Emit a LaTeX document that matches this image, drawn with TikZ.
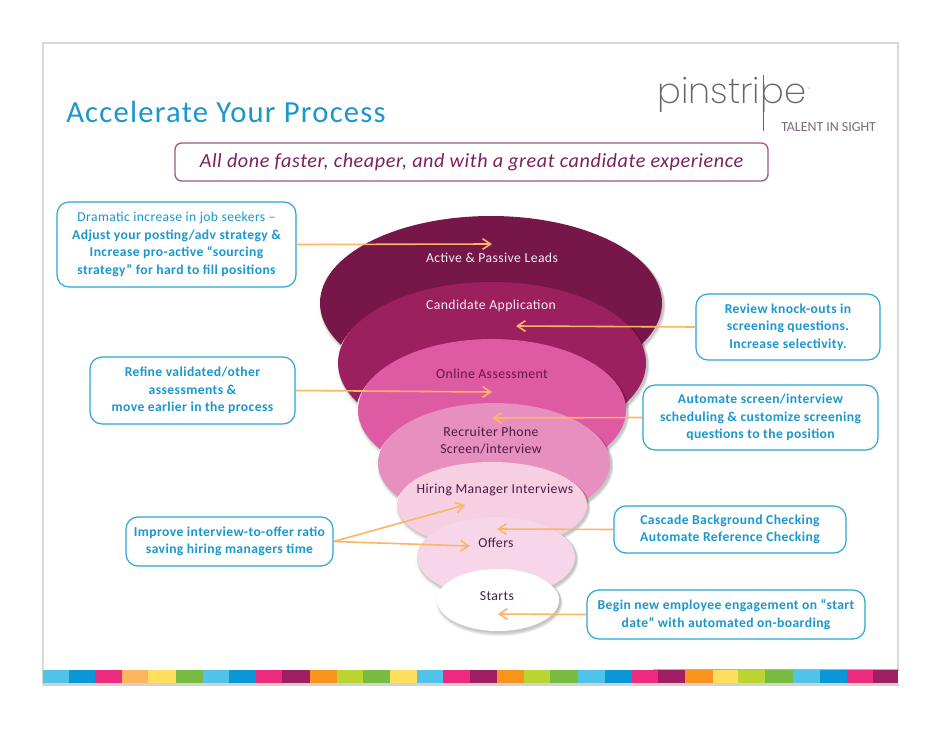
\documentclass[tikz,border=0pt]{standalone}
\usepackage{fontspec}
\setmainfont{Carlito}[LetterSpace=3]
\newfontfamily\titlefont{Carlito}[LetterSpace=4]
\newfontfamily\logofont{Poppins ExtraLight}
\newfontfamily\taglinefont{Carlito}
\usetikzlibrary{shapes.geometric,arrows.meta}
\definecolor{titleblue}{HTML}{1B97CD}
\definecolor{boxblue}{HTML}{2BA7D1}
\definecolor{plum}{HTML}{7E1F5E}
\definecolor{darktext}{HTML}{4E1A45}
\definecolor{arrowor}{HTML}{FAB566}
\definecolor{tagcol}{HTML}{7D6A80}
\definecolor{sCy}{HTML}{4FC3E8}
\definecolor{sBl}{HTML}{0B96D8}
\definecolor{sPk}{HTML}{EC2A7E}
\definecolor{sLo}{HTML}{FDB55E}
\definecolor{sYe}{HTML}{FFDD5F}
\definecolor{sGr}{HTML}{78BB43}
\definecolor{sPu}{HTML}{A01F62}
\definecolor{sOr}{HTML}{F8941D}
\definecolor{sLi}{HTML}{BAD532}
\definecolor{fa}{HTML}{771749}
\definecolor{fb}{HTML}{9C1F60}
\definecolor{fc}{HTML}{DE5AA2}
\definecolor{fd}{HTML}{E78FBE}
\definecolor{fe}{HTML}{F6CFE3}
\definecolor{ff}{HTML}{F6D6E8}
\definecolor{fg}{HTML}{FFFFFF}
\newlength{\logow}
\AtBeginDocument{\settowidth{\logow}{\logofont\fontsize{26.5pt}{30pt}\selectfont pinstri}}
\tikzset{
  callout/.style={draw=boxblue,line width=.9pt,rounded corners=9pt,fill=white,align=center,
    text=titleblue,font=\fontsize{10.2pt}{13.1pt}\selectfont\bfseries,inner sep=0pt},
  flow/.style={draw=arrowor,line width=1.2pt,-{Straight Barb[length=6pt,width=8pt,line width=1.2pt]}},
  funnel/.style={ellipse,inner sep=0pt,draw=none},
  flabel/.style={font=\fontsize{10.3pt}{12.9pt}\selectfont,align=center,inner sep=0pt},
}
\newcommand{\funnelpart}[6]{%
  \fill[white] (#2-1,#3+3) ellipse[x radius=#4+1,y radius=#5+1];
  \draw[gray!22,line width=.3pt,densely dotted] (#2-1,#3+3) ellipse[x radius=#4+1,y radius=#5+1];
  \foreach \d in {4,3,2,1}{\fill[black,opacity=.06] (#2+1.5,#3+1+\d*.5) ellipse[x radius=#4+\d*.5,y radius=#5+\d*.5];}
  \node[funnel,fill=#6,minimum width=#4*1.5pt,minimum height=#5*1.5pt] (#1) at (#2,#3) {};
}
\begin{document}
\begin{tikzpicture}[x=.75pt,y=-.75pt]
\useasboundingbox (0,0) rectangle (942,728);
\fill[white] (0,0) rectangle (942,728);
% frame
\draw[gray!30,line width=1.6pt] (43,685) -- (43,43) -- (898,43) -- (898,670);
% strip
\fill[gray!35] (43,683) rectangle (899,685.5);
\fill[gray!60] (653,669) rectangle (899,671);
\foreach \a/\b/\c in {43/69/sCy,69/95/sBl,95/122/sPk,122/148/sLo,148/176/sYe,176/203/sGr,203/229/sCy,229/256/sBl,256/282/sPk,282/310/sPu,310/337/sOr,337/363/sLi,363/390/sGr,390/417/sYe,417/443/sCy,443/470/sPk,470/497/sPu,497/524/sOr,524/550/sLi,550/578/sGr,578/605/sCy,605/632/sBl,632/658/sPk,658/685/sPu,685/713/sOr,713/738/sYe,738/765/sLi,765/793/sGr,793/820/sCy,820/847/sBl,847/873/sPk,873/898/sPu}
  {\fill[\c] (\a,670) rectangle (\b,683);}
% title
\node[anchor=west,inner sep=0pt,text=titleblue,font=\titlefont\fontsize{23pt}{26pt}\selectfont] (title) at (66,112) {Accelerate Your Process};
% logo: its long stem is the stem of the second p
\coordinate (stemtop) at (763,75);
\coordinate (stembot) at (763,131);
\node[anchor=base west,inner sep=0pt,text=black!60,font=\logofont\fontsize{26.5pt}{30pt}\selectfont] (logo) at ([xshift=-\logow-2.2pt]763,103) {pinstripe};
\node[anchor=west,inner sep=0pt,text=black!50,font=\fontsize{4pt}{5pt}\selectfont] (reg) at ([xshift=1.5pt,yshift=10pt]logo.base east) {®};
\draw[black!60,line width=.6pt] (stemtop) -- (stembot);
\node[anchor=west,inner sep=0pt,text=tagcol,font=\taglinefont\fontsize{10.4pt}{11pt}\selectfont] (tag) at (781,127) {TALENT IN SIGHT};
% subtitle
\node[draw=plum!75,line width=1pt,rounded corners=5pt,minimum width=593*.75pt,minimum height=38*.75pt,inner sep=0pt,text=plum,font=\fontsize{15.1pt}{18pt}\selectfont\itshape] (sub) at (471.5,162) {\raisebox{-.6pt}{All done faster, cheaper, and with a great candidate experience}};
% funnel
\funnelpart{e1}{491}{303}{171}{87}{fa}
\funnelpart{e2}{492}{363}{154}{81}{fb}
\funnelpart{e3}{492}{410}{134}{71}{fc}
\funnelpart{e4}{494}{463}{116}{60}{fd}
\funnelpart{e5}{492}{505}{95}{43}{fe}
\funnelpart{e6}{496}{557}{79}{40}{ff}
\funnelpart{e7}{498}{600}{61}{31}{fg}
% funnel labels
\node[flabel,text=white!92!fa] (l1) at (492,258) {Active \& Passive Leads};
\node[flabel,text=white!92!fa] (l2) at (491,306) {Candidate Application};
\node[flabel,text=fa!90!black] (l3) at (492,374) {Online Assessment};
\node[flabel,text=darktext] (l4) at (491,440.5) {Recruiter Phone\\Screen/interview};
\node[flabel,text=darktext] (l5) at (495,490) {Hiring Manager Interviews};
\node[flabel,text=darktext] (l6) at (496,543) {Offers};
\node[flabel,text=darktext] (l7) at (497,596) {Starts};
% callouts
\node[callout,minimum width=239*.75pt,minimum height=85*.75pt] (c1) at (176.5,244.5) {{\mdseries Dramatic increase in job seekers --}\\Adjust your posting/adv strategy \&\\Increase pro-active “sourcing\\strategy” for hard to fill positions};
\node[callout,minimum width=205*.75pt,minimum height=67*.75pt] (c2) at (192.5,390.5) {Refine validated/other\\assessments \&\\move earlier in the process};
\node[callout,minimum width=207*.75pt,minimum height=49*.75pt] (c3) at (229.5,541.5) {Improve interview-to-offer ratio\\saving hiring managers time};
\node[callout,minimum width=184*.75pt,minimum height=66*.75pt] (r1) at (788,327) {Review knock-outs in\\screening questions.\\Increase selectivity.};
\node[callout,minimum width=235*.75pt,minimum height=65*.75pt] (r2) at (760.5,417.5) {Automate screen/interview\\scheduling \& customize screening\\questions to the position};
\node[callout,minimum width=232*.75pt,minimum height=47*.75pt] (r3) at (730,529.5) {Cascade Background Checking\\Automate Reference Checking};
\node[callout,minimum width=278*.75pt,minimum height=49*.75pt] (r4) at (726,614.5) {Begin new employee engagement on “start\\date” with automated on-boarding};
% arrow ends
\coordinate (t1) at (492,244);
\coordinate (t2) at (516,326);
\coordinate (t3) at (492,392);
\coordinate (t4) at (492,418);
\coordinate (t5) at (465,505);
\coordinate (t6) at (470,546);
\coordinate (t7) at (497,529);
\coordinate (t8) at (498,614);
\draw[flow] (c1.east) -- (t1);
\draw[flow] (r1.west) -- (t2);
\draw[flow] (c2.east) -- (t3);
\draw[flow] (r2.west) -- (t4);
\draw[flow] (c3.east) -- (t5);
\draw[flow] (c3.east) -- (t6);
\draw[flow] (r3.west) -- (t7);
\draw[flow] (r4.west) -- (t8);
\end{tikzpicture}
\end{document}
